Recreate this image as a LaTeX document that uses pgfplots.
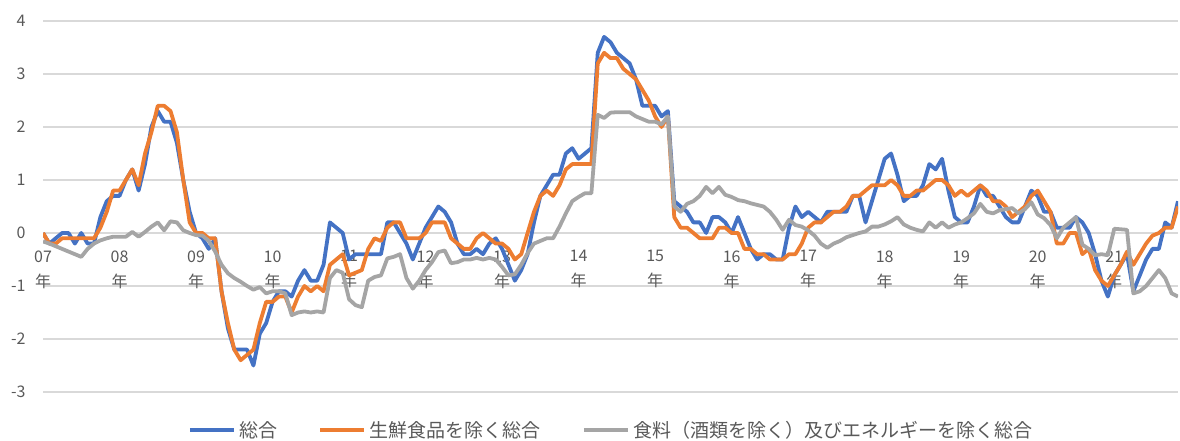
\documentclass[border=0pt]{standalone}
\usepackage{pgfplots}
\pgfplotsset{compat=1.18}
\usepackage{pgfplotstable}
\usepackage{fontspec}
\setmainfont{Noto Sans CJK JP}

\definecolor{cpiblue}{HTML}{4472C4}
\definecolor{cpiorange}{HTML}{ED7D31}
\definecolor{cpigray}{HTML}{A5A5A5}
\definecolor{gridgray}{HTML}{D9D9D9}
\definecolor{labelgray}{HTML}{595959}

% Monthly year-on-year change (%), m = months since January 2007
\pgfplotstableread{
m total core corecore
0 0.0 0.0 -0.16
1 -0.2 -0.2 -0.2
2 -0.1 -0.2 -0.25
3 0.0 -0.1 -0.3
4 0.0 -0.1 -0.35
5 -0.2 -0.1 -0.4
6 0.0 -0.1 -0.45
7 -0.2 -0.1 -0.3
8 -0.2 -0.1 -0.2
9 0.3 0.1 -0.14
10 0.6 0.4 -0.1
11 0.7 0.8 -0.07
12 0.7 0.8 -0.07
13 1.0 1.0 -0.07
14 1.2 1.2 0.02
15 0.8 0.9 -0.07
16 1.3 1.5 0.02
17 2.0 1.9 0.12
18 2.3 2.4 0.2
19 2.1 2.4 0.05
20 2.1 2.3 0.22
21 1.7 1.9 0.2
22 1.0 1.0 0.05
23 0.4 0.2 0.0
24 0.0 0.0 -0.04
25 -0.1 0.0 -0.05
26 -0.3 -0.1 -0.15
27 -0.1 -0.1 -0.35
28 -1.1 -1.1 -0.6
29 -1.8 -1.7 -0.76
30 -2.2 -2.2 -0.85
31 -2.2 -2.4 -0.92
32 -2.2 -2.3 -1.0
33 -2.5 -2.2 -1.07
34 -1.9 -1.7 -1.02
35 -1.7 -1.3 -1.14
36 -1.3 -1.3 -1.1
37 -1.1 -1.2 -1.1
38 -1.1 -1.2 -1.14
39 -1.2 -1.5 -1.55
40 -0.9 -1.2 -1.5
41 -0.7 -1.0 -1.48
42 -0.9 -1.1 -1.5
43 -0.9 -1.0 -1.48
44 -0.6 -1.1 -1.5
45 0.2 -0.6 -0.85
46 0.1 -0.5 -0.7
47 0.0 -0.4 -0.75
48 -0.5 -0.8 -1.25
49 -0.4 -0.75 -1.36
50 -0.4 -0.7 -1.4
51 -0.4 -0.3 -0.9
52 -0.4 -0.1 -0.83
53 -0.4 -0.15 -0.8
54 0.2 0.1 -0.48
55 0.2 0.2 -0.45
56 0.0 0.2 -0.4
57 -0.2 -0.1 -0.85
58 -0.5 -0.1 -1.05
59 -0.2 -0.1 -0.9
60 0.1 0.0 -0.7
61 0.3 0.2 -0.55
62 0.5 0.2 -0.36
63 0.4 0.2 -0.33
64 0.2 -0.1 -0.57
65 -0.2 -0.2 -0.55
66 -0.4 -0.3 -0.5
67 -0.4 -0.3 -0.5
68 -0.3 -0.1 -0.47
69 -0.4 0.0 -0.5
70 -0.2 -0.1 -0.47
71 -0.1 -0.2 -0.5
72 -0.3 -0.2 -0.64
73 -0.6 -0.3 -0.8
74 -0.9 -0.5 -0.78
75 -0.7 -0.4 -0.6
76 -0.4 0.0 -0.38
77 0.2 0.4 -0.2
78 0.7 0.7 -0.15
79 0.9 0.8 -0.1
80 1.1 0.7 -0.1
81 1.1 0.9 0.12
82 1.5 1.2 0.37
83 1.6 1.3 0.6
84 1.4 1.3 0.68
85 1.5 1.3 0.75
86 1.6 1.3 0.75
87 3.4 3.2 2.23
88 3.7 3.4 2.17
89 3.6 3.3 2.27
90 3.4 3.3 2.28
91 3.3 3.1 2.28
92 3.2 3.0 2.28
93 2.9 2.9 2.2
94 2.4 2.7 2.15
95 2.4 2.5 2.1
96 2.4 2.2 2.1
97 2.2 2.0 2.05
98 2.3 2.2 2.2
99 0.6 0.3 0.5
100 0.5 0.1 0.4
101 0.4 0.1 0.55
102 0.2 0.0 0.6
103 0.2 -0.1 0.7
104 0.0 -0.1 0.87
105 0.3 -0.1 0.75
106 0.3 0.1 0.87
107 0.2 0.1 0.72
108 0.0 0.0 0.68
109 0.3 0.0 0.62
110 0.0 -0.3 0.6
111 -0.3 -0.3 0.56
112 -0.5 -0.4 0.53
113 -0.4 -0.4 0.5
114 -0.4 -0.5 0.4
115 -0.5 -0.5 0.25
116 -0.5 -0.5 0.06
117 0.1 -0.4 0.25
118 0.5 -0.4 0.15
119 0.3 -0.2 0.12
120 0.4 0.1 0.05
121 0.3 0.2 -0.05
122 0.2 0.2 -0.2
123 0.4 0.3 -0.28
124 0.4 0.4 -0.2
125 0.4 0.4 -0.15
126 0.4 0.5 -0.08
127 0.7 0.7 -0.04
128 0.7 0.7 0.0
129 0.2 0.8 0.03
130 0.6 0.9 0.12
131 1.0 0.9 0.12
132 1.4 0.9 0.16
133 1.5 1.0 0.22
134 1.1 0.9 0.3
135 0.6 0.7 0.16
136 0.7 0.7 0.1
137 0.7 0.8 0.06
138 0.9 0.8 0.03
139 1.3 0.9 0.2
140 1.2 1.0 0.1
141 1.4 1.0 0.2
142 0.8 0.9 0.1
143 0.3 0.7 0.16
144 0.2 0.8 0.2
145 0.2 0.7 0.28
146 0.5 0.8 0.37
147 0.9 0.9 0.55
148 0.7 0.8 0.4
149 0.7 0.6 0.37
150 0.5 0.6 0.43
151 0.3 0.5 0.45
152 0.2 0.3 0.47
153 0.2 0.4 0.37
154 0.5 0.5 0.45
155 0.8 0.7 0.58
156 0.7 0.8 0.35
157 0.4 0.6 0.28
158 0.4 0.4 0.15
159 0.1 -0.2 -0.1
160 0.1 -0.2 0.1
161 0.1 0.0 0.2
162 0.3 0.0 0.3
163 0.2 -0.4 -0.22
164 0.0 -0.3 -0.3
165 -0.4 -0.7 -0.42
166 -0.9 -0.9 -0.4
167 -1.2 -1.0 -0.42
168 -0.8 -0.8 0.08
169 -0.6 -0.6 0.07
170 -0.4 -0.35 0.06
171 -1.1 -0.6 -1.14
172 -0.8 -0.4 -1.1
173 -0.5 -0.2 -1.0
174 -0.3 -0.05 -0.85
175 -0.3 0.0 -0.7
176 0.2 0.1 -0.85
177 0.1 0.1 -1.14
178 0.6 0.5 -1.2
}\cpidata

\begin{document}
\begin{tikzpicture}
% page frame: 1180 x 441
\path (0pt,0pt) rectangle (1180pt,441pt);
\begin{axis}[
  set layers,
  at={(43pt,49pt)}, anchor=south west,
  scale only axis, width=1135pt, height=371pt,
  xmin=0, xmax=178, ymin=-3, ymax=4,
  axis x line*=middle, axis y line*=left,
  hide obscured x ticks=false,
  x axis line style={draw=none}, y axis line style={draw=none},
  ytick={-3,-2,...,4},
  ymajorgrids, grid style={gridgray, line width=1.2pt},
  xtick={0,12,...,168},
  xticklabels={{07\\年},{08\\年},{09\\年},{10\\年},{11\\年},{12\\年},{13\\年},{14\\年},{15\\年},{16\\年},{17\\年},{18\\年},{19\\年},{20\\年},{21\\年}},
  major tick length=0pt,
  /pgf/number format/assume math mode=true,
  tick label style={font=\fontsize{16}{25}\selectfont, text=labelgray},
  xticklabel style={align=center, yshift=-14pt},
  yticklabel style={xshift=-14pt},
  legend columns=3,
  legend style={at={(0.5,-0.102)}, anchor=center, draw=none, fill=none,
    inner sep=0pt, font=\fontsize{19}{21}\selectfont, text=labelgray,
    /tikz/every odd column/.append style={column sep=2pt},
    /tikz/every even column/.append style={column sep=40pt},
    nodes={inner sep=1pt}},
  legend image code/.code={\draw[#1, line width=4.5pt] (0pt,0pt) -- (44pt,0pt);},
  every axis plot/.append style={line width=3.8pt, line join=round, no markers},
]
\addplot[cpiblue] table[x=m, y=total] {\cpidata};
\addlegendentry{総合}
\addplot[cpiorange] table[x=m, y=core] {\cpidata};
\addlegendentry{生鮮食品を除く総合}
\addplot[cpigray] table[x=m, y=corecore] {\cpidata};
\addlegendentry{食料（酒類を除く）及びエネルギーを除く総合}
\end{axis}
\end{tikzpicture}
\end{document}
